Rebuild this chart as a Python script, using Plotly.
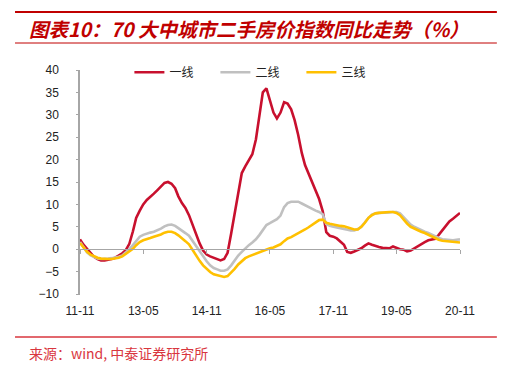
import plotly.graph_objects as go
import pandas as pd

dates = pd.date_range("2011-11-01", periods=109, freq="MS")

tier1 = [2.2, 1.0, 0.1, -0.9, -1.7, -2.2, -2.5, -2.5, -2.4, -2.2,
         -1.9, -1.5, -0.9, -0.2, 1.2, 4.0, 7.0, 8.6, 10.0, 11.0,
         11.8, 12.4, 13.2, 14.0, 14.8, 15.0, 14.6, 13.6, 11.8, 10.3,
         9.2, 7.6, 5.6, 3.3, 1.3, -0.3, -1.2, -1.6, -1.9, -2.2,
         -2.5, -2.2, -0.8, 3.5, 8.0, 12.5, 17.0, 18.5, 20.0, 21.2,
         24.5, 29.5, 35.0, 35.9, 33.0, 30.5, 29.2, 30.5, 32.8, 32.5,
         31.2, 28.8, 25.5, 21.5, 18.8, 16.8, 15.2, 13.0, 11.2, 8.5,
         3.8, 3.0, 2.8, 2.4, 1.8, 1.0, -0.6, -0.8, -0.5, -0.2,
         0.2, 0.8, 1.3, 1.0, 0.7, 0.5, 0.3, 0.2, 0.2, 0.6,
         0.3, 0.0, -0.1, -0.5, -0.3, 0.2, 0.6, 1.1, 1.6, 2.0,
         2.2, 2.3, 3.2, 4.2, 5.2, 6.2, 6.8, 7.4, 8.1]

tier2 = [1.6, 0.4, -0.7, -1.4, -1.8, -2.1, -2.2, -2.2, -2.1, -2.0,
         -1.9, -1.7, -1.4, -0.8, 0.0, 0.9, 1.9, 2.8, 3.2, 3.5,
         3.7, 3.9, 4.2, 4.6, 5.1, 5.4, 5.5, 5.2, 4.7, 4.2,
         3.6, 3.0, 1.9, 0.6, -0.6, -1.7, -2.7, -3.6, -4.2, -4.5,
         -4.8, -4.8, -4.5, -3.6, -2.5, -1.4, -0.6, 0.2, 0.9, 1.5,
         2.2, 3.2, 4.4, 5.4, 5.8, 6.3, 6.7, 7.5, 9.4, 10.3,
         10.6, 10.6, 10.6, 10.2, 9.8, 9.4, 9.0, 8.6, 8.3, 7.8,
         5.6, 5.2, 5.0, 4.9, 4.7, 4.5, 4.3, 4.2, 4.2, 4.5,
         5.0, 6.0, 7.0, 7.7, 8.0, 8.1, 8.1, 8.1, 8.2, 8.3,
         8.3, 8.0, 7.2, 6.2, 5.5, 5.0, 4.6, 4.2, 3.9, 3.6,
         3.2, 2.8, 2.5, 2.2, 2.1, 2.0, 2.0, 2.1, 2.2]

tier3 = [1.4, 0.3, -0.6, -1.2, -1.6, -1.9, -2.1, -2.2, -2.2, -2.2,
         -2.1, -1.9, -1.6, -1.1, -0.5, 0.1, 0.9, 1.6, 2.0, 2.2,
         2.5, 2.8, 3.0, 3.3, 3.7, 3.9, 3.9, 3.6, 3.1, 2.5,
         1.8, 1.1, -0.2, -1.5, -2.6, -3.6, -4.4, -5.1, -5.6, -5.8,
         -6.1, -6.2, -6.0, -5.3, -4.4, -3.4, -2.6, -2.0, -1.6, -1.3,
         -1.0, -0.6, -0.3, 0.0, 0.2, 0.4, 0.7, 1.1, 1.8, 2.4,
         2.7, 3.1, 3.5, 3.9, 4.4, 4.9, 5.4, 5.9, 6.5, 6.6,
         5.9, 5.7, 5.5, 5.4, 5.2, 5.1, 4.9, 4.6, 4.4, 4.4,
         5.0, 5.9, 7.0, 7.6, 8.0, 8.1, 8.2, 8.3, 8.3, 8.3,
         8.1, 7.6, 6.6, 5.7, 5.0, 4.6, 4.3, 3.9, 3.6, 3.2,
         2.7, 2.4, 2.1, 1.9, 1.8, 1.8, 1.7, 1.6, 1.5]

series_names = ["一线", "二线", "三线"]
series_colors = ["#C8102E", "#C0C0C0", "#FFC000"]
y_ticks = [-10, -5, 0, 5, 10, 15, 20, 25, 30, 35, 40]
title_text = "图表10：70 大中城市二手房价指数同比走势（%）"
source_text = "来源：wind, 中泰证券研究所"

fig = go.Figure()
for name, vals, col in zip(series_names, [tier1, tier2, tier3], series_colors):
    fig.add_trace(go.Scatter(x=dates, y=vals, mode="lines", name=name,
                             line=dict(color=col, width=2.6), hoverinfo="skip"))
# invisible trace to activate the helper axes (zero-level x axis, y tick marks)
fig.add_trace(go.Scatter(x=[dates[0], dates[-1]], y=[None, None], xaxis="x2", yaxis="y2",
                         showlegend=False, hoverinfo="skip"))

font_main = "Liberation Sans, Arial, sans-serif"
fig.update_layout(
    width=514, height=369,
    margin=dict(l=80, r=54, t=70, b=75),
    plot_bgcolor="white", paper_bgcolor="white",
    font=dict(family=font_main, size=12, color="#222222"),
    xaxis=dict(type="date", range=[dates[0], dates[-1]],
               tick0="2011-11-01", dtick="M18", tickformat="%y-%m",
               showgrid=False, showline=False, zeroline=False, ticks="",
               ticklabelstandoff=8,
               tickfont=dict(size=12, color="#222222")),
    xaxis2=dict(type="date", overlaying="x", matches="x", anchor="free",
                position=0.2, showline=True, linecolor="#A6A6A6", linewidth=1,
                ticks="outside", ticklen=4, tickcolor="#A6A6A6",
                tick0="2011-11-01", dtick="M18",
                showticklabels=False, showgrid=False, zeroline=False),
    yaxis=dict(range=[-10, 40], tickvals=y_ticks, showgrid=False, zeroline=False,
               showline=True, linecolor="#A6A6A6", linewidth=1.5,
               ticks="outside", ticklen=17, tickcolor="rgba(0,0,0,0)",
               tickfont=dict(size=12, color="#222222")),
    yaxis2=dict(range=[-10, 40], overlaying="y", matches="y", anchor="free",
                position=0, side="left", tickvals=y_ticks,
                showgrid=False, zeroline=False, showline=False,
                ticks="outside", ticklen=4, tickcolor="#A6A6A6", tickwidth=1,
                showticklabels=False),
    legend=dict(orientation="h", x=0.13, y=0.99, xanchor="left", yanchor="middle",
                font=dict(family="Noto Sans CJK SC", size=12, color="#222222"),
                bgcolor="rgba(0,0,0,0)", itemwidth=30, entrywidth=41),
    showlegend=True,
)

fig.add_shape(type="line", xref="paper", yref="paper", x0=-0.171, x1=1.097,
              y0=1.259, y1=1.259, line=dict(color="#C00000", width=2))
fig.add_shape(type="line", xref="paper", yref="paper", x0=-0.171, x1=1.097,
              y0=1.1205, y1=1.1205, line=dict(color="#C00000", width=1))
fig.add_shape(type="line", xref="paper", yref="paper", x0=-0.171, x1=1.097,
              y0=-0.192, y1=-0.192, line=dict(color="#D9363E", width=1.5))

fig.add_annotation(text=title_text, xref="paper", yref="paper", x=-0.14, y=1.1875,
                   xanchor="left", yanchor="middle", showarrow=False,
                   font=dict(family="Noto Sans CJK SC", size=19.5, color="#C00000",
                             weight="bold", style="italic"))
fig.add_annotation(text=source_text, xref="paper", yref="paper", x=-0.14, y=-0.263,
                   xanchor="left", yanchor="middle", showarrow=False,
                   font=dict(family="Noto Sans CJK SC", size=14, color="#D9363E"))

fig.write_html("out.html", config={"displayModeBar": False},
               post_script="document.body.style.margin='0px';")
